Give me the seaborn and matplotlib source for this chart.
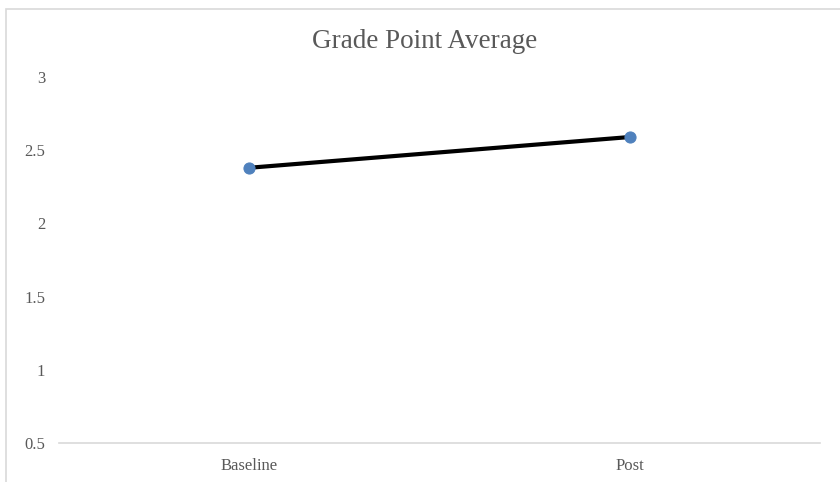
import matplotlib
matplotlib.use("Agg")
import matplotlib.pyplot as plt
import seaborn as sns
import pandas as pd
from matplotlib.patches import Rectangle

# data
phases = ["Baseline", "Post"]
gpa = [2.38, 2.59]
y_ticks = [0.5, 1, 1.5, 2, 2.5, 3]
y_labels = ["0.5", "1", "1.5", "2", "2.5", "3"]

df = pd.DataFrame({"phase": phases, "gpa": gpa})

sns.set_style("white")
plt.rcParams["font.family"] = ["Liberation Serif", "DejaVu Serif"]

fig = plt.figure(figsize=(8.4, 4.82), dpi=100)
ax = fig.add_axes([59 / 840, 39 / 482, 761 / 840, 366 / 482])

# light grey chart border (cropped on right/bottom like the source)
fig.patches.append(Rectangle((6 / 840, -0.1), 1.2, (482 - 9) / 482 + 0.1,
                             transform=fig.transFigure, fill=False,
                             edgecolor="#d9d9d9", linewidth=1.2))

sns.lineplot(data=df, x="phase", y="gpa", ax=ax, color="black", linewidth=3,
             marker="o", markersize=8, markerfacecolor="#4f81bd",
             markeredgecolor="#4f81bd", sort=False)

ax.set_xlim(-0.5, 1.5)
ax.set_ylim(0.5, 3)
ax.set_yticks(y_ticks)
ax.set_yticklabels(y_labels)
ax.set_xlabel("")
ax.set_ylabel("")
for side in ["top", "right", "left"]:
    ax.spines[side].set_visible(False)
ax.spines["bottom"].set_color("#d9d9d9")
ax.spines["bottom"].set_linewidth(1.2)
ax.tick_params(axis="y", length=0, pad=10, labelsize=12, labelcolor="#595959")
ax.tick_params(axis="x", length=0, pad=11, labelsize=12, labelcolor="#595959")

# title centred on the chart area rather than the plot area
fig.text(425 / 840, (482 - 41) / 482, "Grade Point Average", fontsize=19.5,
         color="#595959", ha="center", va="center")

fig.savefig("out.png", dpi=100)
